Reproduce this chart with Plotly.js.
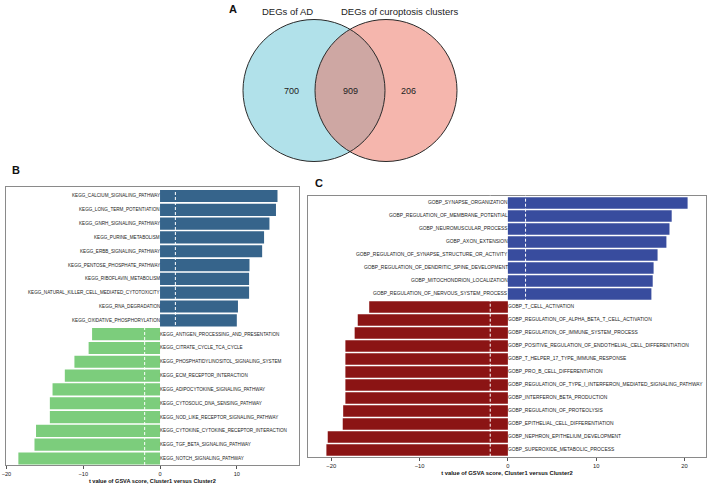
<!DOCTYPE html>
<html>
<head>
<meta charset="utf-8">
<script src="https://cdn.plot.ly/plotly-3.0.1.min.js"></script>
<style>
  html, body { margin: 0; padding: 0; background: #fff; }
  #plot { width: 708px; height: 486px; }
</style>
</head>
<body>
<div id="plot"></div>
<script>
// Venn counts (left only, shared, right only)
const vennSets = ['DEGs of AD', 'DEGs of curoptosis clusters'];
const vennCounts = [700, 909, 206];

// Panel B: KEGG pathways, top to bottom
const keggPathways = [
  'KEGG_CALCIUM_SIGNALING_PATHWAY',
  'KEGG_LONG_TERM_POTENTIATION',
  'KEGG_GNRH_SIGNALING_PATHWAY',
  'KEGG_PURINE_METABOLISM',
  'KEGG_ERBB_SIGNALING_PATHWAY',
  'KEGG_PENTOSE_PHOSPHATE_PATHWAY',
  'KEGG_RIBOFLAVIN_METABOLISM',
  'KEGG_NATURAL_KILLER_CELL_MEDIATED_CYTOTOXICITY',
  'KEGG_RNA_DEGRADATION',
  'KEGG_OXIDATIVE_PHOSPHORYLATION',
  'KEGG_ANTIGEN_PROCESSING_AND_PRESENTATION',
  'KEGG_CITRATE_CYCLE_TCA_CYCLE',
  'KEGG_PHOSPHATIDYLINOSITOL_SIGNALING_SYSTEM',
  'KEGG_ECM_RECEPTOR_INTERACTION',
  'KEGG_ADIPOCYTOKINE_SIGNALING_PATHWAY',
  'KEGG_CYTOSOLIC_DNA_SENSING_PATHWAY',
  'KEGG_NOD_LIKE_RECEPTOR_SIGNALING_PATHWAY',
  'KEGG_CYTOKINE_CYTOKINE_RECEPTOR_INTERACTION',
  'KEGG_TGF_BETA_SIGNALING_PATHWAY',
  'KEGG_NOTCH_SIGNALING_PATHWAY'
];
const keggT = [15.3, 15.1, 14.25, 13.55, 13.3, 11.65, 11.6, 11.6, 10.15, 10.0,
  -8.85, -9.3, -11.15, -12.4, -14.0, -14.35, -14.35, -16.15, -16.35, -18.45];

// Panel C: GO biological processes, top to bottom
const gobpTerms = [
  'GOBP_SYNAPSE_ORGANIZATION',
  'GOBP_REGULATION_OF_MEMBRANE_POTENTIAL',
  'GOBP_NEUROMUSCULAR_PROCESS',
  'GOBP_AXON_EXTENSION',
  'GOBP_REGULATION_OF_SYNAPSE_STRUCTURE_OR_ACTIVITY',
  'GOBP_REGULATION_OF_DENDRITIC_SPINE_DEVELOPMENT',
  'GOBP_MITOCHONDRION_LOCALIZATION',
  'GOBP_REGULATION_OF_NERVOUS_SYSTEM_PROCESS',
  'GOBP_T_CELL_ACTIVATION',
  'GOBP_REGULATION_OF_ALPHA_BETA_T_CELL_ACTIVATION',
  'GOBP_REGULATION_OF_IMMUNE_SYSTEM_PROCESS',
  'GOBP_POSITIVE_REGULATION_OF_ENDOTHELIAL_CELL_DIFFERENTIATION',
  'GOBP_T_HELPER_17_TYPE_IMMUNE_RESPONSE',
  'GOBP_PRO_B_CELL_DIFFERENTIATION',
  'GOBP_REGULATION_OF_TYPE_I_INTERFERON_MEDIATED_SIGNALING_PATHWAY',
  'GOBP_INTERFERON_BETA_PRODUCTION',
  'GOBP_REGULATION_OF_PROTEOLYSIS',
  'GOBP_EPITHELIAL_CELL_DIFFERENTIATION',
  'GOBP_NEPHRON_EPITHELIUM_DEVELOPMENT',
  'GOBP_SUPEROXIDE_METABOLIC_PROCESS'
];
const gobpT = [20.35, 18.55, 18.3, 17.95, 16.95, 16.5, 16.4, 16.25,
  -15.7, -17.0, -17.35, -18.4, -18.4, -18.4, -18.4, -18.4, -18.65, -18.7, -20.4, -20.55];

const xTitle = 't value of GSVA score, Cluster1 versus Cluster2';
const FONT = 'Liberation Sans, Arial, Helvetica, sans-serif';

function barTrace(names, vals, xa, ya, upColor, downColor) {
  return {
    type: 'bar', orientation: 'h',
    x: vals, y: names, xaxis: xa, yaxis: ya,
    width: 0.88,
    marker: { color: vals.map(v => v > 0 ? upColor : downColor), line: { width: 0 } },
    hoverinfo: 'x+y', showlegend: false
  };
}

function barLabels(names, vals, xa, ya, size) {
  return names.map((n, i) => ({
    x: 0, y: n, xref: xa, yref: ya,
    text: n, showarrow: false,
    xanchor: vals[i] > 0 ? 'right' : 'left',
    yanchor: 'middle', borderpad: 0,
    xshift: vals[i] > 0 ? 1 : -1,
    font: { family: FONT, size: size, color: '#222' }
  }));
}

function dashes(xa, ya) {
  return [-2, 2].map(v => ({
    type: 'line', xref: xa, yref: ya + ' domain',
    x0: v, x1: v, y0: 0, y1: 1, layer: 'above',
    line: { color: 'white', width: 1, dash: '3px,2px' }
  }));
}

const data = [
  barTrace(keggPathways, keggT, 'x', 'y', '#36648b', '#7ccd7c'),
  barTrace(gobpTerms, gobpT, 'x2', 'y2', '#384c9e', '#8b1414')
];

// Venn circles in pixel-like units on a hidden axis
const cy = 90.5, r = 71;
const cxs = [314, 386];
const vennFill = ['rgba(100,196,213,0.5)', 'rgba(236,110,92,0.5)'];
const shapes = [];
cxs.forEach((cx, i) => shapes.push({
  type: 'circle', xref: 'x3', yref: 'y3',
  x0: cx - r, x1: cx + r, y0: cy - r, y1: cy + r,
  fillcolor: vennFill[i], line: { width: 0 }, layer: 'below'
}));
cxs.forEach(cx => shapes.push({
  type: 'circle', xref: 'x3', yref: 'y3',
  x0: cx - r, x1: cx + r, y0: cy - r, y1: cy + r,
  line: { color: '#2a2a2a', width: 1 }, layer: 'above'
}));
shapes.push(...dashes('x', 'y'), ...dashes('x2', 'y2'));

const numX = [291.5, 350, 408];
const annotations = [
  ...barLabels(keggPathways, keggT, 'x', 'y', 4.6),
  ...barLabels(gobpTerms, gobpT, 'x2', 'y2', 4.9),
  ...vennCounts.map((c, i) => ({
    x: numX[i], y: cy, xref: 'x3', yref: 'y3', text: String(c), showarrow: false,
    font: { family: FONT, size: 9, color: '#222' }
  })),
  { x: 287, y: 11.5, xref: 'x3', yref: 'y3', text: vennSets[0], showarrow: false,
    font: { family: FONT, size: 9.5, color: '#222' } },
  { x: 399, y: 11.5, xref: 'x3', yref: 'y3', text: vennSets[1], showarrow: false,
    font: { family: FONT, size: 9.5, color: '#222' } },
  { x: 233, y: 9, xref: 'x3', yref: 'y3', text: '<b>A</b>', showarrow: false,
    font: { family: FONT, size: 11, color: '#111' } },
  { x: 10 / 708, y: 1 - 170 / 486, xref: 'paper', yref: 'paper', text: '<b>B</b>', showarrow: false,
    font: { family: FONT, size: 11, color: '#111' } },
  { x: 319 / 708, y: 1 - 183 / 486, xref: 'paper', yref: 'paper', text: '<b>C</b>', showarrow: false,
    font: { family: FONT, size: 11, color: '#111' } }
];

function xAxis(domain, range, tickvals, fontSize) {
  return {
    domain: domain, range: range, tickvals: tickvals,
    showgrid: false, zeroline: false,
    showline: true, mirror: true, linecolor: '#8a8a8a', linewidth: 1,
    ticks: 'outside', ticklen: 3, tickcolor: '#555', tickwidth: 1,
    tickfont: { family: FONT, size: fontSize, color: '#222' },
    title: { text: '<b>' + xTitle + '</b>', standoff: 3, font: { family: FONT, size: fontSize, color: '#111' } },
    fixedrange: true
  };
}

function yAxis(domain, names, range, anchor) {
  return {
    domain: domain, anchor: anchor, type: 'category',
    categoryorder: 'array', categoryarray: names,
    range: range, showticklabels: false, ticks: '',
    showgrid: false, zeroline: false,
    showline: true, mirror: true, linecolor: '#8a8a8a', linewidth: 1,
    fixedrange: true
  };
}

const layout = {
  width: 708, height: 486,
  margin: { l: 0, r: 0, t: 0, b: 0 },
  paper_bgcolor: 'white', plot_bgcolor: 'rgba(0,0,0,0)',
  font: { family: FONT },
  showlegend: false,
  xaxis: Object.assign(xAxis([5.7 / 708, 299 / 708], [-20.1, 18.1], [-20, -10, 0, 10], 5.6), { anchor: 'y' }),
  yaxis: yAxis([21 / 486, 299 / 486], keggPathways, [19.47, -0.65], 'x'),
  xaxis2: Object.assign(xAxis([308.3 / 708, 705.7 / 708], [-22.6, 22.4], [-20, -10, 0, 10, 20], 5.8), { anchor: 'y2' }),
  yaxis2: yAxis([29.3 / 486, 290.3 / 486], gobpTerms, [19.52, -0.56], 'x2'),
  xaxis3: { domain: [230 / 708, 470 / 708], range: [230, 470], visible: false, anchor: 'y3', fixedrange: true },
  yaxis3: { domain: [1 - 168 / 486, 1], range: [168, 0], visible: false, anchor: 'x3', fixedrange: true },
  shapes: shapes,
  annotations: annotations
};

Plotly.newPlot('plot', data, layout, { displayModeBar: false, staticPlot: true });
</script>
</body>
</html>
